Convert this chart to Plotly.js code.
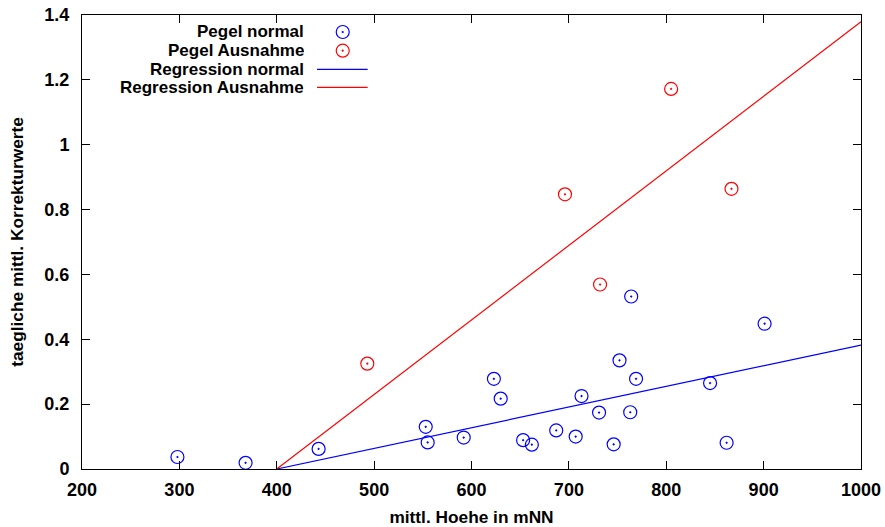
<!DOCTYPE html>
<html>
<head>
<meta charset="utf-8">
<script src="https://cdn.plot.ly/plotly-3.0.1.min.js"></script>
<style>html,body{margin:0;padding:0;background:#fff;}#chart{width:885px;height:527px;}</style>
</head>
<body>
<div id="chart"></div>
<script>
// Data
const normalX = [298, 368, 443, 553, 555, 592, 623, 630, 653, 662, 687, 707, 713, 731, 746, 752, 764, 763, 769, 845, 862, 901];
const normalY = [0.037, 0.019, 0.062, 0.130, 0.082, 0.097, 0.278, 0.217, 0.089, 0.075, 0.119, 0.100, 0.225, 0.174, 0.076, 0.335, 0.532, 0.175, 0.278, 0.265, 0.081, 0.448];
const ausX = [493, 696, 732, 805, 867];
const ausY = [0.325, 0.847, 0.569, 1.172, 0.864];
const regNormalX = [400, 1000];
const regNormalY = [0, 0.382];
const regAusX = [400, 1000];
const regAusY = [0, 1.379];
const legendLabels = ["Pegel normal", "Pegel Ausnahme", "Regression normal", "Regression Ausnahme"];
const xTicks = [200, 300, 400, 500, 600, 700, 800, 900, 1000];
const yTicks = [0, 0.2, 0.4, 0.6, 0.8, 1, 1.2, 1.4];

const BLUE = '#0000ff', RED = '#ff0000';
const FONT = 'Liberation Sans, Arial, Helvetica, sans-serif';
const markerStyle = c => ({symbol: 'circle-open-dot', size: 13, color: c, line: {color: c, width: 1.2}});

// legend positions in paper coordinates (overlay axis 0..1)
const rowsY = [0.9626, 0.9214, 0.8804, 0.8408];
const symX = 0.3347, lineX0 = 0.3017, lineX1 = 0.3667, textX = 0.2863;

const traces = [
  {x: normalX, y: normalY, type: 'scatter', mode: 'markers', marker: markerStyle(BLUE), cliponaxis: false},
  {x: ausX, y: ausY, type: 'scatter', mode: 'markers', marker: markerStyle(RED), cliponaxis: false},
  {x: regNormalX, y: regNormalY, type: 'scatter', mode: 'lines', line: {color: BLUE, width: 1.2}},
  {x: regAusX, y: regAusY, type: 'scatter', mode: 'lines', line: {color: RED, width: 1.2}},
  // legend keys
  {x: [symX], y: [rowsY[0]], xaxis: 'x2', yaxis: 'y2', mode: 'markers', marker: markerStyle(BLUE), cliponaxis: false},
  {x: [symX], y: [rowsY[1]], xaxis: 'x2', yaxis: 'y2', mode: 'markers', marker: markerStyle(RED), cliponaxis: false},
  {x: [lineX0, lineX1], y: [rowsY[2], rowsY[2]], xaxis: 'x2', yaxis: 'y2', mode: 'lines', line: {color: BLUE, width: 1.2}},
  {x: [lineX0, lineX1], y: [rowsY[3], rowsY[3]], xaxis: 'x2', yaxis: 'y2', mode: 'lines', line: {color: RED, width: 1.2}}
];

const annotations = legendLabels.map((t, i) => ({
  text: t, xref: 'paper', yref: 'paper', x: textX, y: rowsY[i],
  xanchor: 'right', yanchor: 'middle', showarrow: false, height: 17, borderpad: 0,
  font: {family: FONT, size: 17, color: '#000', weight: 'bold'}
}));

const layout = {
  width: 885, height: 527,
  margin: {l: 82, r: 24, t: 15, b: 58, pad: 0},
  paper_bgcolor: '#fff', plot_bgcolor: '#fff',
  showlegend: false,
  font: {family: FONT, color: '#000'},
  xaxis: {
    range: [200, 1000], tickvals: xTicks, ticktext: xTicks.map(String),
    ticks: 'inside', ticklen: 8, tickcolor: '#000', tickwidth: 1,
    showline: true, linecolor: '#000', linewidth: 1, mirror: 'ticks',
    showgrid: false, zeroline: false, ticklabelstandoff: 4,
    tickfont: {family: FONT, size: 18, weight: 'bold', color: '#000'},
    title: {text: 'mittl. Hoehe in mNN', font: {family: FONT, size: 17.3, weight: 'bold', color: '#000'}, standoff: 12}
  },
  yaxis: {
    range: [0, 1.4], tickvals: yTicks, ticktext: yTicks.map(String),
    ticks: 'inside', ticklen: 8, tickcolor: '#000', tickwidth: 1,
    showline: true, linecolor: '#000', linewidth: 1, mirror: 'ticks',
    showgrid: false, zeroline: false, ticklabelstandoff: 8,
    tickfont: {family: FONT, size: 18, weight: 'bold', color: '#000'},
    title: {text: 'taegliche mittl. Korrekturwerte', font: {family: FONT, size: 17.3, weight: 'bold', color: '#000'}, standoff: 16}
  },
  xaxis2: {overlaying: 'x', range: [0, 1], visible: false, fixedrange: true},
  yaxis2: {overlaying: 'y', range: [0, 1], visible: false, fixedrange: true},
  annotations: annotations
};

Plotly.newPlot('chart', traces, layout, {displayModeBar: false, staticPlot: true});
</script>
</body>
</html>
